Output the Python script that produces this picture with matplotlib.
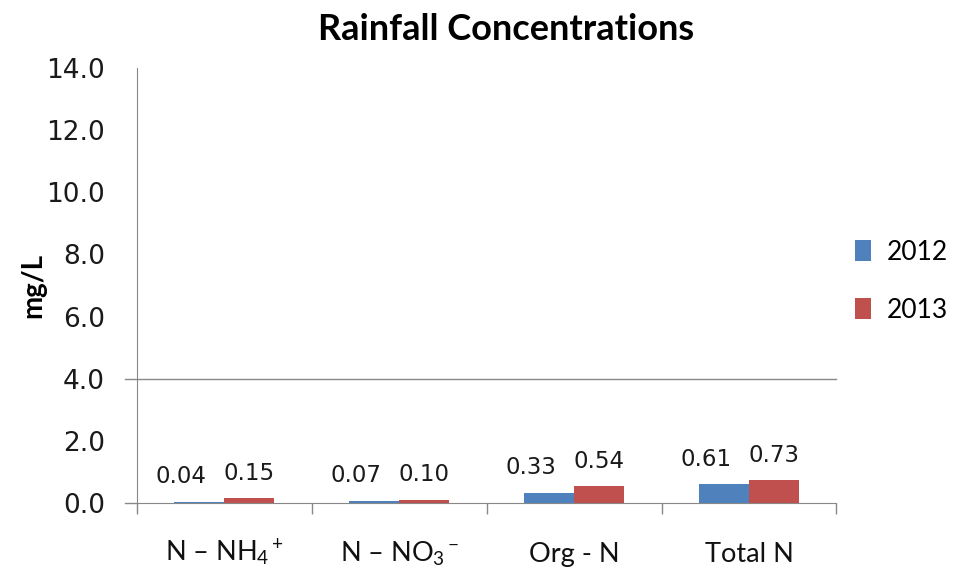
import matplotlib.pyplot as plt
import numpy as np

plt.rcParams['mathtext.fontset'] = 'custom'
plt.rcParams['mathtext.rm'] = 'Lato'
plt.rcParams['mathtext.it'] = 'Lato:italic'

# rainfall nitrogen concentrations, mg/L
categories = ['N – NH$_4$$^+$', 'N – NO$_3$$^-$', 'Org - N', 'Total N']
years = ['2012', '2013']
conc_2012 = [0.04, 0.07, 0.33, 0.61]
conc_2013 = [0.15, 0.10, 0.54, 0.73]
colors = ['#4F81BD', '#C0504D']
axis_grey = '#888888'

fig = plt.figure(figsize=(9.54, 5.70), dpi=100)
ax = fig.add_axes([0.1436, 0.1175, 0.7332, 0.7632])

x = np.arange(len(categories))
w = 0.286
bars1 = ax.bar(x - w / 2, conc_2012, w, color=colors[0], label=years[0], zorder=3)
bars2 = ax.bar(x + w / 2, conc_2013, w, color=colors[1], label=years[1], zorder=3)

# value labels (2012 ones pushed left so they don't collide)
for bars, dx in [(bars1, -18), (bars2, 0)]:
    for b in bars:
        v = b.get_height()
        ax.annotate(f'{v:.2f}', (b.get_x() + b.get_width() / 2, v),
                    xytext=(dx, 25), textcoords='offset pixels',
                    ha='center', va='center', fontsize=16.5,
                    family='DejaVu Sans', color='#1a1a1a')

ax.set_xlim(-0.5, len(categories) - 0.5)
ax.set_ylim(0, 14)
yt = np.arange(0, 14.1, 2)
ax.set_yticks(yt)
ax.set_yticklabels([f'{t:.1f}' for t in yt], fontsize=19, family='DejaVu Sans',
                   color='#1a1a1a')
ax.tick_params(axis='y', length=0, pad=23)

# single reference line at 4.0 with a short stub left of the axis
ax.axhline(4.0, xmin=-0.017, xmax=1.0, color=axis_grey, lw=1.0, zorder=1, clip_on=False)
ax.axhline(0.0, xmin=-0.017, xmax=0.0, color=axis_grey, lw=1.0, zorder=1, clip_on=False)

# category boundary ticks, labels placed under each group
ax.set_xticks(np.arange(-0.5, len(categories), 1.0))
ax.set_xticklabels([])
ax.tick_params(axis='x', length=8, width=1, color=axis_grey)
for xi, name in zip(x, categories):
    ax.text(xi, -0.135, name, transform=ax.get_xaxis_transform(),
            ha='center', va='baseline', fontsize=19.5, family='Lato', color='#111111')

for side in ['top', 'right']:
    ax.spines[side].set_visible(False)
for side in ['left', 'bottom']:
    ax.spines[side].set_color(axis_grey)

fig.text(33 / 954, 1 - 285 / 570, 'mg/L', rotation=90, ha='center', va='center',
         fontsize=20, fontweight='bold', family='Lato')
fig.text(506 / 954, 1 - 30 / 570, 'Rainfall Concentrations', ha='center', va='center',
         fontsize=26, fontweight='bold', family='Lato')

leg = ax.legend(loc='center left', bbox_to_anchor=(1.008, 0.51), frameon=False,
                handlelength=0.6, handleheight=0.8, handletextpad=0.6,
                labelspacing=1.25, borderpad=0, prop={'family': 'Lato', 'size': 19})

fig.savefig('out.png', dpi=100)
